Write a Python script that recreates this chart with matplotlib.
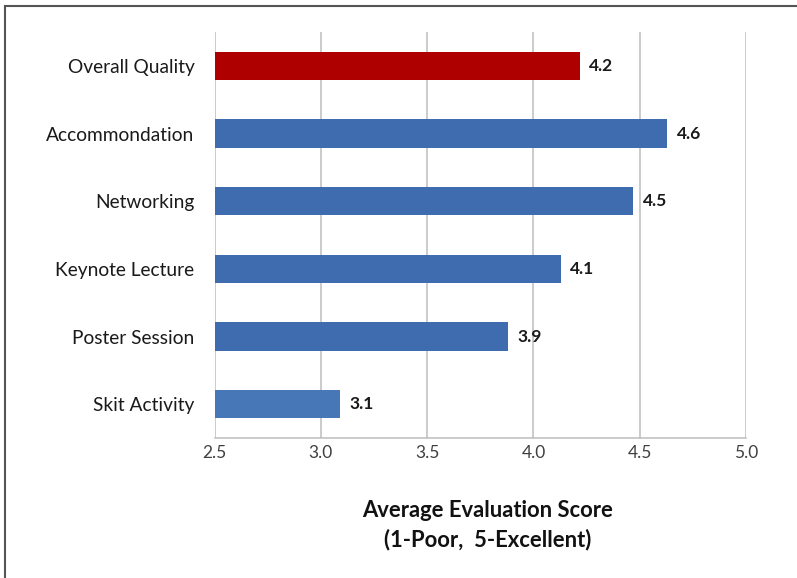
import matplotlib
matplotlib.use("Agg")
import matplotlib.pyplot as plt
from matplotlib.lines import Line2D

categories = ["Overall Quality", "Accommondation", "Networking",
              "Keynote Lecture", "Poster Session", "Skit Activity"]
scores = [4.22, 4.63, 4.47, 4.13, 3.88, 3.09]
labels = ["4.2", "4.6", "4.5", "4.1", "3.9", "3.1"]
colors = ["#AF0000", "#3E6CAE", "#3E6CAE", "#3E6CAE", "#3E6CAE", "#4877B7"]
xticks = [2.5, 3.0, 3.5, 4.0, 4.5, 5.0]

plt.rcParams['font.family'] = ['Lato', 'DejaVu Sans']

fig = plt.figure(figsize=(7.97, 5.78), dpi=100)
ax = fig.add_axes([0.2693, 0.2422, 0.6668, 0.7024])

ypos = list(range(len(categories)))[::-1]
ax.barh(ypos, [s - 2.5 for s in scores], left=2.5, height=0.42,
        color=colors, zorder=3)
for y, s, lab in zip(ypos, scores, labels):
    ax.text(s + 0.043, y, lab, va='center', ha='left', fontsize=12.5,
            fontweight='bold', color='#1a1a1a')

ax.set_xlim(2.5, 5.0)
ax.set_ylim(-0.5, len(categories) - 0.5)
ax.set_xticks(xticks)
ax.set_xticklabels([f"{t:.1f}" for t in xticks], fontsize=12.5, color='#404040')
ax.set_yticks(ypos)
ax.set_yticklabels(categories, fontsize=13.8, color='#1a1a1a')
ax.tick_params(axis='both', length=0)
ax.tick_params(axis='y', pad=14.5)
ax.tick_params(axis='x', pad=5)
ax.xaxis.grid(True, color='#BDBDBD', linewidth=1.1, zorder=0)
for sp in ['top', 'right', 'left']:
    ax.spines[sp].set_visible(False)
ax.spines['bottom'].set_color('#BDBDBD')
ax.spines['bottom'].set_linewidth(1.1)

ax.set_xlabel("Average Evaluation Score\n(1-Poor,  5-Excellent)",
              fontsize=15.8, fontweight='bold', labelpad=28, linespacing=1.45,
              color='#111111')
ax.xaxis.label.set_x(0.5145)

# outer frame (top and left edges visible)
fig.add_artist(Line2D([5/797, 1.0], [1 - 6/578, 1 - 6/578], transform=fig.transFigure,
                      color='#555555', linewidth=1.5))
fig.add_artist(Line2D([5/797, 5/797], [0.0, 1 - 6/578], transform=fig.transFigure,
                      color='#555555', linewidth=1.5))

fig.savefig("out.png", dpi=100, facecolor='white')
